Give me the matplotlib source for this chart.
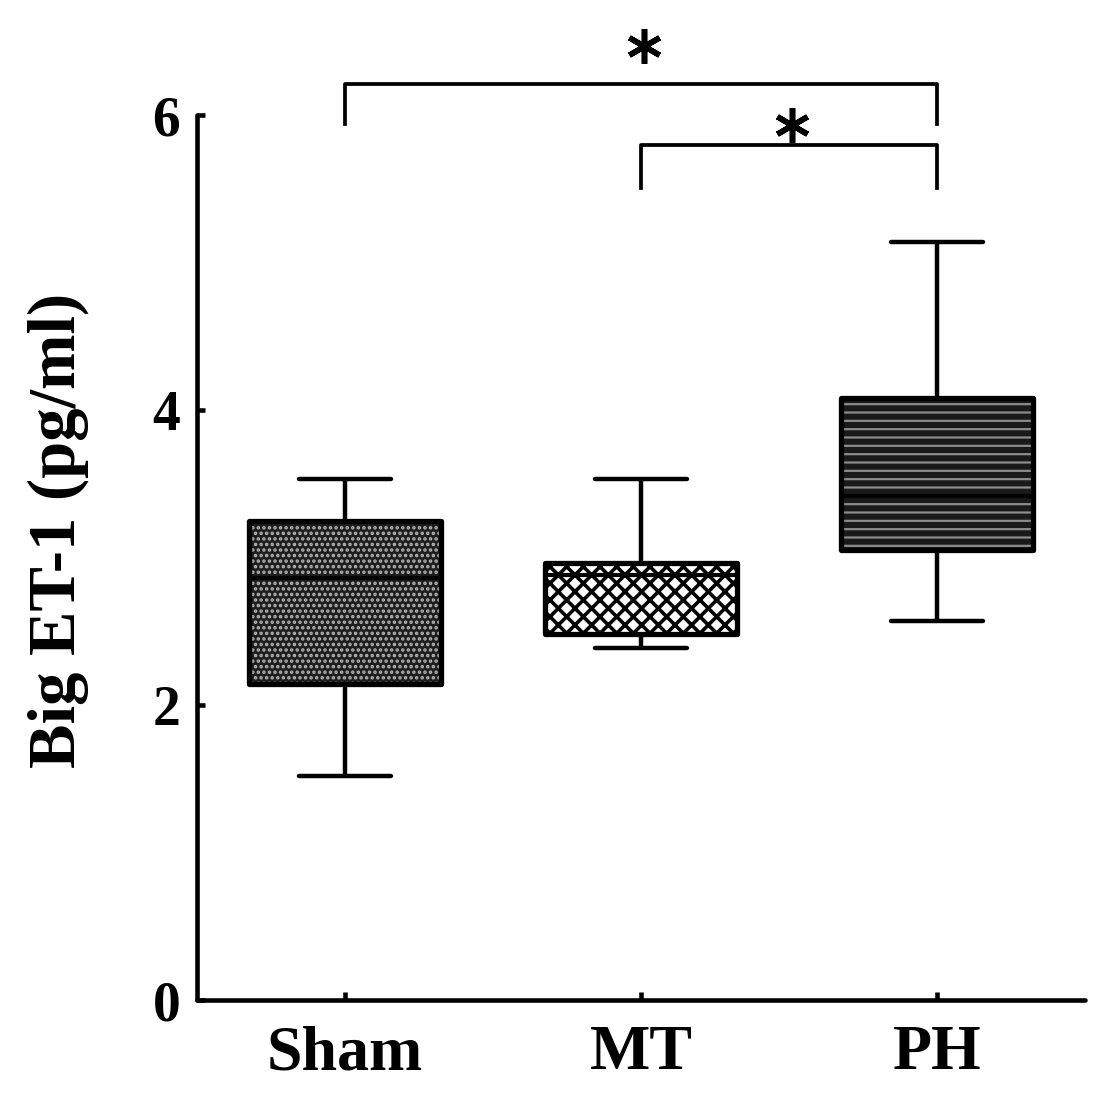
import matplotlib
matplotlib.use("Agg")
import matplotlib.pyplot as plt
from matplotlib.patches import PathPatch

# данные
groups = ["Sham", "MT", "PH"]
whis_low = [1.52, 2.39, 2.57]
q1 = [2.14, 2.48, 3.05]
median = [2.86, 2.88, 3.42]
q3 = [3.25, 2.96, 4.08]
whis_high = [3.53, 3.53, 5.14]

yticks = [0, 2, 4, 6]

# скобки значимости: (левая группа, правая группа, уровень, низ левой ножки, низ правой ножки)
brackets = [(1, 3, 6.21, 5.94, 5.94), (2, 3, 5.80, 5.505, 5.505)]
stars = [(1, 3, 6.47), (2, 3, 5.93)]

# заливки ящиков: фон, штриховка, цвет штриховки, толщина штриховки
fills = [
    dict(face="#1e1e1e", hatch="...", hc="#b4b4b4", hlw=1.7),
    dict(face="#ffffff", hatch="xx", hc="#000000", hlw=2.6),
    dict(face="#1a1a1a", hatch="--", hc="#8c8c8c", hlw=1.6),
]

plt.rcParams["font.family"] = ["Liberation Serif", "DejaVu Serif"]
plt.rcParams["font.weight"] = "bold"

fig = plt.figure(figsize=(11.1, 11.01), dpi=100)
ax = fig.add_axes([0.1775, 0.0917, 0.80, 0.8038])

stats = []
for i, g in enumerate(groups):
    stats.append(dict(label=g, whislo=whis_low[i], q1=q1[i], med=median[i],
                      q3=q3[i], whishi=whis_high[i], fliers=[]))

pos = [1, 2, 3]
bp = ax.bxp(stats, positions=pos, widths=0.65, patch_artist=True,
            showfliers=False, capwidths=0.31,
            whiskerprops=dict(color="k", lw=3.2, solid_capstyle="butt"),
            capprops=dict(color="k", lw=3.2, solid_capstyle="round"),
            medianprops=dict(color="k", lw=3.0, zorder=4))

for box, f in zip(bp["boxes"], fills):
    box.set_facecolor(f["face"])
    box.set_edgecolor(f["hc"])
    box.set_hatch(f["hatch"])
    box.set_hatch_linewidth(f["hlw"])
    box.set_linewidth(0)
    box.set_zorder(2)
    outline = PathPatch(box.get_path(), fill=False, ec="k", lw=3.8,
                        joinstyle="round", zorder=5)
    ax.add_patch(outline)

for a, b, top, la, lb in brackets:
    ax.plot([pos[a - 1], pos[a - 1], pos[b - 1], pos[b - 1]],
            [la, top, top, lb], color="k", lw=2.7, clip_on=False,
            solid_joinstyle="round")

# звёздочки
for a, b, y in stars:
    ax.plot([(pos[a - 1] + pos[b - 1]) / 2 + 0.01], [y], marker=(6, 2, 0),
            ms=25, mew=4.0, color="k", clip_on=False, ls="none")

ax.set_xlim(0.5, 3.5)
ax.set_ylim(0, 6)
ax.set_yticks(yticks)
ax.set_yticklabels([str(v) for v in yticks], fontsize=40, fontweight="bold")
ax.set_xticks(pos)
ax.set_xticklabels(groups, fontsize=46, fontweight="bold")
ax.set_ylabel("Big ET-1 (pg/ml)", fontsize=48, fontweight="bold")
ax.yaxis.set_label_coords(-0.122, 0.531)

for s in ["top", "right"]:
    ax.spines[s].set_visible(False)
for s in ["left", "bottom"]:
    ax.spines[s].set_linewidth(3.3)
    ax.spines[s].set_capstyle("round")
ax.tick_params(axis="both", direction="in", length=6, width=3.3)
ax.tick_params(axis="y", pad=12)
ax.tick_params(axis="x", pad=18)

fig.savefig("out.png", dpi=100)
